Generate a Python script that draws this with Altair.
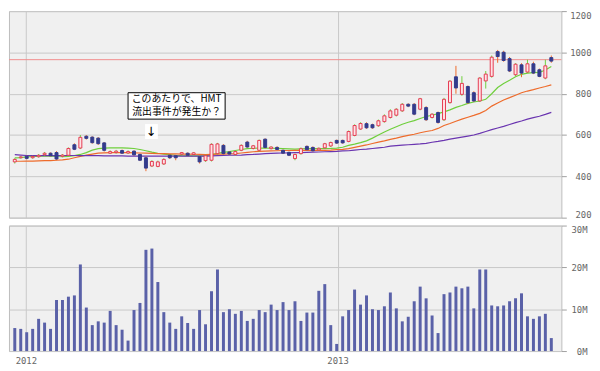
import altair as alt
import pandas as pd

# ---- data (weekly candles, volume in millions, moving averages) ----
first_week = "2011-12-19"
opens = [470, 490, 497, 490, 495, 505, 512, 515, 497, 502,
         553, 537, 594, 590, 585, 562, 512, 515, 525, 513,
         522, 506, 490, 450, 448, 460, 502, 500, 508, 512,
         506, 495, 476, 478, 510, 550, 518, 506, 526, 566,
         535, 526, 580, 534, 540, 526, 516, 486, 510, 545,
         540, 528, 538, 547, 574, 574, 569, 598, 629, 655,
         650, 645, 665, 685, 696, 717, 749, 749, 725, 733,
         685, 709, 674, 757, 882, 797, 835, 805, 765, 862,
         884, 1004, 1001, 970, 892, 940, 905, 945, 916, 876, 975]
highs = [488, 498, 500, 500, 508, 518, 516, 522, 508, 540,
         560, 600, 600, 594, 590, 566, 526, 528, 530, 526,
         526, 510, 497, 478, 476, 488, 508, 504, 518, 516,
         518, 500, 505, 560, 562, 556, 522, 525, 555, 572,
         552, 578, 584, 546, 546, 530, 520, 510, 540, 550,
         545, 540, 562, 568, 578, 578, 622, 652, 662, 662,
         655, 675, 700, 725, 730, 755, 754, 755, 780, 740,
         706, 714, 780, 866, 935, 885, 840, 812, 880, 910,
         985, 1012, 1008, 978, 948, 948, 965, 955, 922, 965, 985]
lows = [462, 486, 482, 485, 490, 500, 496, 478, 492, 498,
        527, 532, 578, 558, 552, 520, 508, 510, 508, 508,
        500, 474, 425, 445, 444, 455, 484, 478, 502, 498,
        500, 462, 470, 472, 505, 505, 503, 500, 522, 538,
        530, 520, 535, 530, 526, 508, 498, 478, 505, 524,
        520, 524, 534, 542, 557, 558, 565, 594, 625, 630,
        630, 640, 660, 680, 690, 712, 735, 696, 720, 668,
        680, 655, 668, 752, 800, 790, 750, 760, 760, 825,
        878, 950, 955, 905, 885, 880, 900, 895, 880, 870, 950]
closes = [482, 494, 487, 496, 502, 512, 500, 484, 503, 535,
          531, 589, 584, 563, 558, 526, 520, 522, 512, 520,
          504, 478, 440, 472, 470, 482, 490, 490, 515, 502,
          514, 470, 500, 555, 557, 510, 508, 520, 550, 542,
          548, 574, 540, 542, 530, 512, 502, 506, 534, 529,
          524, 536, 558, 564, 561, 562, 617, 646, 656, 635,
          635, 669, 693, 717, 725, 749, 740, 701, 776, 674,
          701, 661, 773, 861, 828, 850, 757, 765, 876, 895,
          977, 980, 961, 910, 943, 900, 945, 900, 884, 935, 958]
volume_m = [5.5, 5.3, 4.5, 5.3, 7.7, 6.8, 5.3, 12.2, 12.2, 13.0,
            13.3, 20.7, 10.4, 6.2, 7.1, 6.8, 9.6, 6.2, 5.1, 2.5,
            9.8, 11.5, 24.2, 24.5, 16.5, 9.3, 6.8, 5.3, 8.3, 6.7,
            5.3, 9.8, 6.4, 14.3, 19.5, 9.3, 10.0, 8.9, 9.6, 7.2,
            7.7, 9.8, 9.3, 11.1, 9.8, 11.7, 9.8, 11.9, 7.2, 9.2,
            9.2, 14.4, 16.0, 6.2, 1.7, 8.3, 9.8, 14.7, 11.1, 13.3,
            10.0, 9.8, 10.7, 14.0, 10.2, 7.1, 8.2, 11.9, 15.4, 12.6,
            8.5, 4.3, 13.6, 14.0, 15.4, 15.0, 15.4, 10.2, 19.5, 19.5,
            10.9, 10.7, 10.9, 11.9, 12.6, 13.8, 8.3, 7.7, 8.3, 8.9, 3.1]
ma_short = [489, 491, 494, 496, 497, 499, 498, 496, 495, 497,
            500, 506, 515, 527, 534, 537, 538, 538, 538, 537,
            535, 530, 524, 517, 512, 508, 505, 502, 500, 499,
            499, 499, 500, 505, 511, 516, 520, 525, 530, 534,
            536, 537, 537, 536, 535, 534, 533, 532, 533, 534,
            534, 534, 534, 535, 537, 541, 550, 556, 563, 572,
            585, 600, 615, 628, 640, 652, 662, 670, 680, 690,
            696, 704, 712, 722, 734, 743, 753, 760, 765, 773,
            800, 830, 850, 865, 882, 894, 900, 902, 903, 915, 932]
ma_mid = [473, 473, 474, 474, 475, 476, 476, 478, 480, 483,
          490, 497, 503, 508, 512, 514, 515, 515, 515, 515,
          514, 513, 512, 511, 510, 510, 509, 509, 508, 508,
          507, 506, 505, 506, 507, 508, 509, 510, 513, 516,
          519, 521, 522, 523, 524, 525, 525, 526, 526, 526,
          526, 526, 526, 527, 529, 531, 534, 540, 546, 552,
          559, 566, 572, 579, 585, 592, 598, 604, 611, 617,
          622, 632, 646, 656, 667, 677, 686, 695, 705, 719,
          740, 755, 770, 781, 793, 805, 813, 820, 828, 835, 843]
ma_long = [505, 503, 501, 500, 500, 500, 500, 500, 501, 501,
           501, 500, 500, 500, 500, 499, 499, 499, 499, 498,
           498, 498, 498, 498, 498, 498, 498, 498, 498, 498,
           498, 498, 498, 499, 500, 501, 502, 502, 503, 505,
           506, 508, 510, 511, 512, 513, 514, 515, 515, 516,
           517, 518, 519, 520, 521, 523, 524, 527, 530, 532,
           535, 538, 541, 546, 549, 551, 553, 555, 557, 560,
           565, 569, 574, 580, 585, 590, 595, 600, 608, 617,
           626, 634, 642, 651, 660, 668, 677, 684, 691, 700, 710]
price_ticks = [200, 400, 600, 800, 1000, 1200]
volume_ticks = [0, 10, 20, 30]
ref_price = [965]
note_lines = ["このあたりで、HMT", "流出事件が発生か？"]
note_line_y = [774, 711]
note_box = {"x": ["2012-04-30"], "x2": ["2012-08-22"], "y": [677], "y2": [805]}
note_x = "2012-06-26"
arrow_box = {"x": ["2012-05-20"], "x2": ["2012-06-04"], "y": [581], "y2": [653]}
arrow = {"x": ["2012-05-27"], "y": [615], "t": ["↓"]}

# ---- tables ----
dates = pd.date_range(first_week, periods=len(opens), freq="7D")
df = pd.DataFrame({"date": dates, "open": opens, "high": highs, "low": lows,
                   "close": closes, "vol": volume_m})
df["dir"] = ["up" if c >= o else "down" for o, c in zip(opens, closes)]
ma_df = pd.concat([
    pd.DataFrame({"date": dates, "value": vals, "series": key})
    for key, vals in [("s", ma_short), ("m", ma_mid), ("l", ma_long)]
])
note_df = pd.DataFrame({"x": [note_x] * 2, "y": note_line_y, "t": note_lines})

W = 559
x_scale = alt.Scale(domain=[alt.DateTime(year=2011, month=12, date=18),
                            alt.DateTime(year=2013, month=9, date=15)])
year_vals = [alt.DateTime(year=2012, month=1, date=1), alt.DateTime(year=2013, month=1, date=1)]
top_x_axis = alt.Axis(values=year_vals, labels=False, ticks=False, domain=False, grid=True, title=None)
bot_x_axis = alt.Axis(values=year_vals, format="%Y", ticks=False, domain=False, grid=True,
                      title=None, labelPadding=6)

price_axis = alt.Axis(orient="right", values=price_ticks, format="d", title=None, tickSize=5,
                      labelPadding=25, labelAlign="right",
                      labelBaseline={"condition": [{"test": "datum.value == 1200", "value": "top"},
                                                   {"test": "datum.value == 200", "value": "alphabetic"}],
                                     "value": "middle"})
price_scale = alt.Scale(domain=[200, 1200], zero=False, nice=False)


def px(field):
    return alt.X(field, type="temporal", scale=x_scale, axis=top_x_axis)


def py(field):
    return alt.Y(field, type="quantitative", scale=price_scale, axis=price_axis)


dir_dom = ["up", "down"]
lines = alt.Chart(ma_df).mark_line(strokeWidth=1.2).encode(
    x=px("date"), y=py("value"),
    color=alt.Color("series:N", scale=alt.Scale(domain=["s", "m", "l"],
                                                range=["#6fcf3c", "#ee6b2b", "#6a35b0"]), legend=None),
)
red_rule = alt.Chart(pd.DataFrame({"v": ref_price})).mark_rule(color="#f08c8c", strokeWidth=1).encode(
    y=py("v"))
wicks = alt.Chart(df).mark_rule(strokeWidth=1).encode(
    x=px("date"), y=py("low"), y2="high",
    color=alt.Color("dir:N", scale=alt.Scale(domain=dir_dom, range=["#e63a50", "#333b8c"]), legend=None),
)
bodies = alt.Chart(df).mark_bar(size=3, strokeWidth=1).encode(
    x=px("date"), y=py("open"), y2="close",
    fill=alt.Fill("dir:N", scale=alt.Scale(domain=dir_dom, range=["#fde3e6", "#333b8c"]), legend=None),
    stroke=alt.Stroke("dir:N", scale=alt.Scale(domain=dir_dom, range=["#e63a50", "#333b8c"]), legend=None),
)
nbox = alt.Chart(pd.DataFrame(note_box)).mark_rect(fill="white", stroke="black", strokeWidth=1).encode(
    x=px("x"), x2="x2", y=py("y"), y2="y2")
ntext = alt.Chart(note_df).mark_text(font="Noto Sans CJK JP", fontSize=10, color="black",
                                     baseline="middle", align="center").encode(
    x=px("x"), y=py("y"), text="t:N")
abox = alt.Chart(pd.DataFrame(arrow_box)).mark_rect(fill="white").encode(
    x=px("x"), x2="x2", y=py("y"), y2="y2")
atext = alt.Chart(pd.DataFrame(arrow)).mark_text(font="DejaVu Sans", fontSize=13, color="black",
                                                 baseline="middle", align="center").encode(
    x=px("x"), y=py("y"), text="t:N")

top = alt.layer(lines, red_rule, wicks, bodies, nbox, ntext, abox, atext).properties(width=W, height=209)

vol = alt.Chart(df).mark_bar(size=3, color="#5a61a8").encode(
    x=alt.X("date:T", scale=x_scale, axis=bot_x_axis),
    y=alt.Y("vol:Q", scale=alt.Scale(domain=[0, 30], nice=False),
            axis=alt.Axis(orient="right", values=volume_ticks, labelExpr="datum.value + 'M'",
                          title=None, tickSize=5, labelPadding=21, labelAlign="right",
                          labelBaseline={"condition": {"test": "datum.value == 30", "value": "top"},
                                         "value": "middle"})),
).properties(width=W, height=127)

chart = alt.vconcat(top, vol, spacing=8, bounds="flush").properties(
    padding=0, background="white"
).configure_view(
    fill="#f0f0f0", stroke="#bdbdbd"
).configure_axis(
    gridColor="#c8c8c8", gridWidth=1, domain=False,
    labelFont="DejaVu Sans Mono", labelFontSize=9, labelColor="#666666", tickColor="#a0a0a0"
)

chart.save("out.html", embed_options={"renderer": "svg", "actions": False})
